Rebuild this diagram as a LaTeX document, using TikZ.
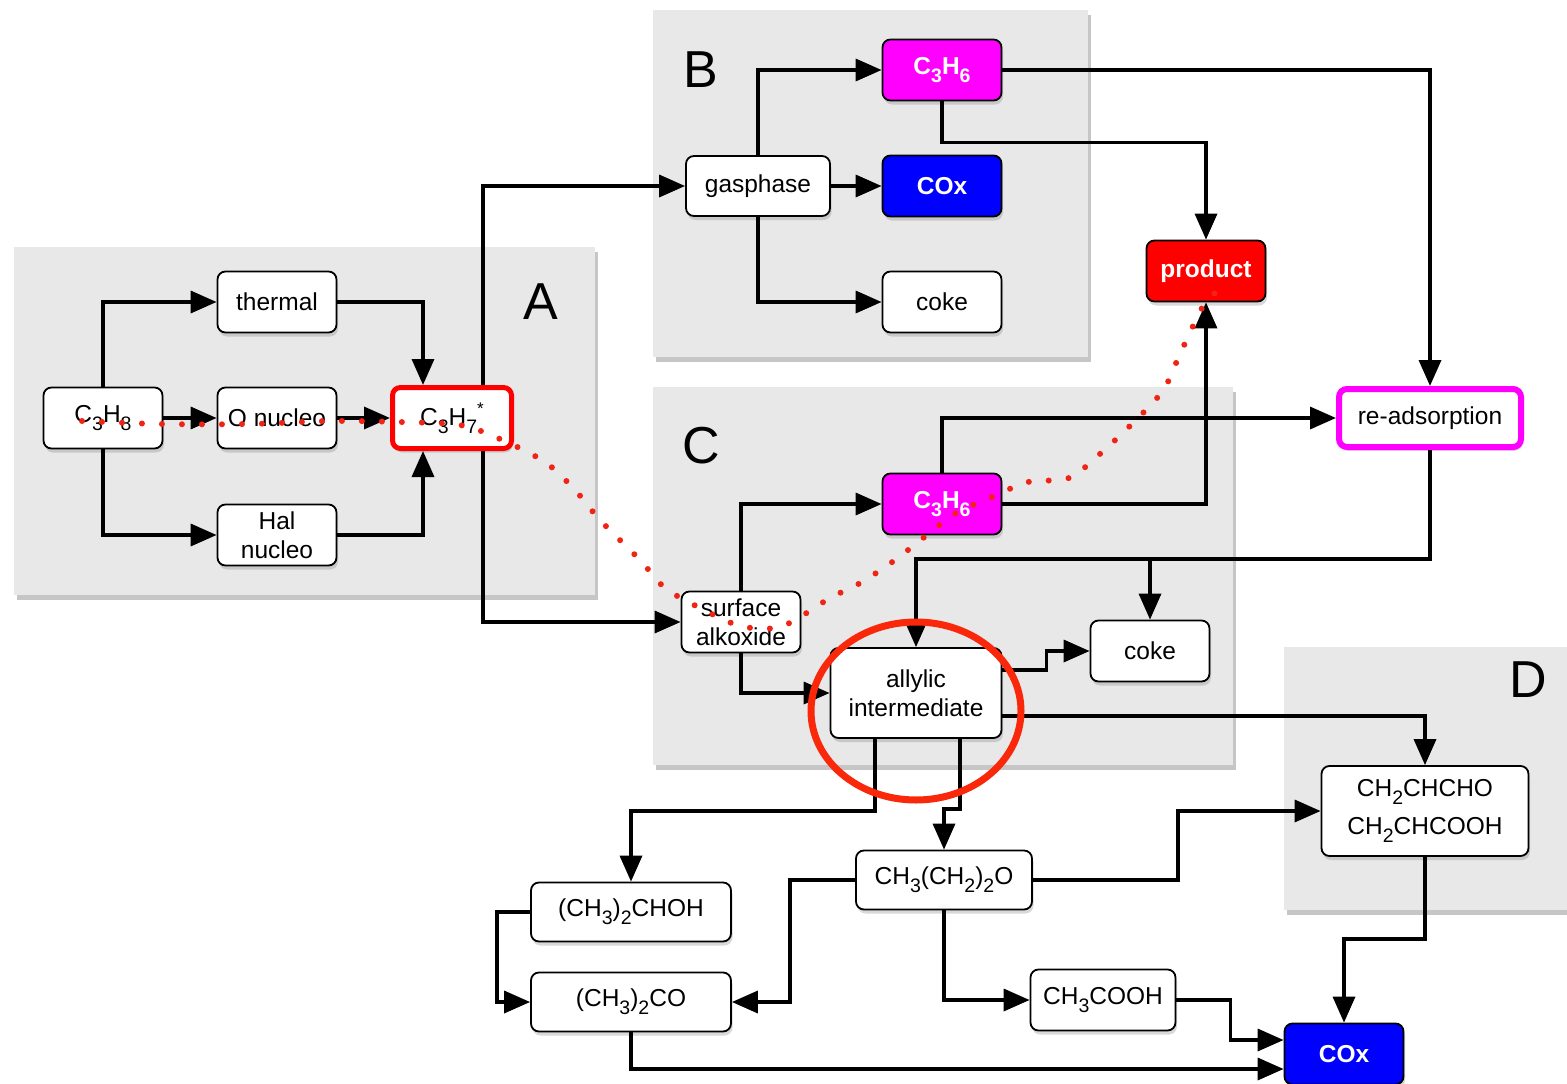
\documentclass[tikz,border=0pt]{standalone}
\usepackage{fontspec}
\setmainfont{Liberation Sans}
\usetikzlibrary{arrows.meta,shadows}
\newcommand{\chemsub}[1]{\raisebox{-0.34em}{\fontsize{19.5}{20}\selectfont #1}}
\newcommand{\chemsup}[1]{\raisebox{0.45em}{\fontsize{17}{18}\selectfont #1}}
\definecolor{panelgray}{RGB}{232,232,232}
\definecolor{trailred}{RGB}{240,35,20}
\definecolor{ringred}{RGB}{250,40,10}
\definecolor{pink}{RGB}{255,0,255}
\definecolor{deepblue}{RGB}{0,0,255}
\definecolor{hotred}{RGB}{255,0,0}
\begin{document}
\begin{tikzpicture}[x=1pt,y=-1pt,
    box/.style={draw, line width=1.8pt, rounded corners=8pt, fill=white,
      minimum width=119pt, minimum height=61pt, inner sep=2pt, align=center,
      font=\fontsize{24.5}{29}\selectfont,
      drop shadow={opacity=0.3,shadow xshift=1.5pt,shadow yshift=-4pt}},
    hot/.style={box, text=white, font=\fontsize{24.5}{29}\selectfont\bfseries},
    panel/.style={fill=panelgray, drop shadow={opacity=0.45,shadow xshift=3pt,shadow yshift=-5pt}},
    tag/.style={font=\fontsize{52}{52}\selectfont},
    flow/.style={line width=3.5pt, -{Triangle[length=26pt,width=22pt]}},
    redtrail/.style={trailred, line width=6pt, line cap=round, dash pattern=on 0pt off 20pt}]
  \useasboundingbox (0,0) rectangle (1567,1084);
  % panels
  \fill[panel] (14,247) rectangle (595,595);
  \fill[panel] (653,10) rectangle (1088,357);
  \fill[panel] (653,387) rectangle (1233,765);
  \fill[panel] (1284,647) rectangle (1580,910);
  \node[tag] (tagA) at (541,302) {A};
  \node[tag] (tagB) at (701,70) {B};
  \node[tag] (tagC) at (701,446) {C};
  \node[tag] (tagD) at (1528,680) {D};
  % A : activation
  \node[box] (c3h8) at (103,418) {C\chemsub{3}H\chemsub{8}};
  \node[box] (thermal) at (277,302) {thermal};
  \node[box] (onucleo) at (277,418) {O nucleo};
  \node[box] (halnucleo) at (277,535) {Hal\\nucleo};
  \node[box, draw=hotred, line width=5pt] (c3h7) at (452,418) {C\chemsub{3}H\chemsub{7}\chemsup{*}};
  % B : gas phase
  \node[box, minimum width=144pt, minimum height=60pt] (gasphase) at (758,186) {gasphase};
  \node[hot, fill=pink] (propB) at (942,70) {C\chemsub{3}H\chemsub{6}};
  \node[hot, fill=deepblue] (coxB) at (942,186) {COx};
  \node[box] (cokeB) at (942,302) {coke};
  \node[hot, fill=hotred] (product) at (1206,271) {product};
  \node[box, draw=pink, line width=6pt, minimum width=182pt, minimum height=58pt] (readsorb) at (1430,418) {re-adsorption};
  % C : surface
  \node[hot, fill=pink] (propC) at (942,504) {C\chemsub{3}H\chemsub{6}};
  \node[box] (alkoxide) at (741,622) {surface\\alkoxide};
  \node[box, minimum width=171pt, minimum height=90pt] (allylic) at (916,693) {allylic\\intermediate};
  \node[box] (cokeC) at (1150,651) {coke};
  % D and oxygenates
  \node[box, minimum width=207pt, minimum height=90pt, font=\fontsize{24.5}{38}\selectfont] (acro) at (1425,811) {CH\chemsub{2}CHCHO\\CH\chemsub{2}CHCOOH};
  \node[box, minimum width=176pt, minimum height=59pt] (propoxy) at (944,880) {CH\chemsub{3}(CH\chemsub{2})\chemsub{2}O};
  \node[box, minimum width=200pt, minimum height=59pt] (alcohol) at (631,912) {(CH\chemsub{3})\chemsub{2}CHOH};
  \node[box, minimum width=200pt, minimum height=59pt] (acetone) at (631,1002) {(CH\chemsub{3})\chemsub{2}CO};
  \node[box, minimum width=145pt] (acetic) at (1103,1000) {CH\chemsub{3}COOH};
  \node[hot, fill=deepblue] (coxD) at (1344,1054) {COx};
  % arrows in A
  \draw[flow] (c3h8.north) |- (thermal.west);
  \draw[flow] (c3h8) -- (onucleo);
  \draw[flow] (c3h8.south) |- (halnucleo.west);
  \draw[flow] (thermal.east) -| ([xshift=-29pt]c3h7.north);
  \draw[flow] (onucleo) -- (c3h7);
  \draw[flow] (halnucleo.east) -| ([xshift=-29pt]c3h7.south);
  \draw[flow] ([xshift=31pt]c3h7.north) |- (gasphase.west);
  \draw[flow] ([xshift=31pt]c3h7.south) |- (alkoxide.west);
  % arrows in B
  \draw[flow] (gasphase.north) |- (propB.west);
  \draw[flow] (gasphase) -- (coxB);
  \draw[flow] (gasphase.south) |- (cokeB.west);
  \draw[flow] (propB.east) -| (readsorb.north);
  \draw[flow] (propB.south) -- ++(0,41) -| (product.north);
  % arrows in C
  \draw[flow] (alkoxide.north) |- (propC.west);
  \draw[flow] (alkoxide.south) |- (allylic.west);
  \draw[flow] (propC.east) -| (product.south);
  \draw[flow] (propC.north) |- (readsorb.west);
  \coordinate (back) at ([yshift=-109pt]readsorb.south);
  \draw[flow] (readsorb.south) -- (back) -| (allylic.north);
  \draw[flow] (back) -| (cokeC.north);
  \draw[flow] ([yshift=23pt]allylic.east) -- ++(44,0) |- (cokeC.west);
  \draw[flow] ([yshift=-23pt]allylic.east) -| (acro.north);
  \draw[flow] ([xshift=-41pt]allylic.south) -- ++(0,72) -| (alcohol.north);
  \draw[flow] ([xshift=44pt]allylic.south) -- ++(0,70) -| (propoxy.north);
  % oxidation products
  \draw[flow] (propoxy.west) -- ++(-65,0) |- (acetone.east);
  \draw[flow] (propoxy.east) -- ++(145,0) |- (acro.west);
  \draw[flow] (propoxy.south) |- (acetic.west);
  \draw[flow] (alcohol.west) -- ++(-33,0) |- (acetone.west);
  \draw[flow] (acetone.south) |- ([yshift=-15pt]coxD.west);
  \draw[flow] (acetic.east) -- ++(54,0) |- ([yshift=14pt]coxD.west);
  \draw[flow] (acro.south) -- ++(0,82) -| (coxD.north);
  % main route
  \draw[redtrail] plot[smooth] coordinates {(82,421) (160,424) (250,424) (330,421)
    (400,422) (460,425) (500,439) (545,462) (575,490) (600,520) (640,560) (665,588)
    (700,608) (740,626) (776,628) (800,617) (830,598) (862,582) (895,560) (927,535)
    (956,513) (992,497) (1028,482) (1069,478) (1101,453) (1139,417) (1164,389)
    (1180,354) (1202,308) (1215,293)};
  \draw[ringred, line width=7pt] (allylic.center) ++(0,18) ellipse [x radius=105pt, y radius=89pt];
\end{tikzpicture}
\end{document}
